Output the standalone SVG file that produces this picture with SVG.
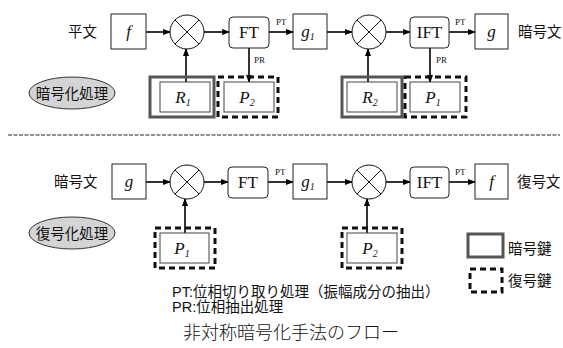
<svg xmlns="http://www.w3.org/2000/svg" width="563" height="348" viewBox="0 0 563 348">
<defs>
<style>
.bx{fill:#fff;stroke:#222;stroke-width:1}
.rb{fill:#fff;stroke:#222;stroke-width:1}
.ln{stroke:#000;stroke-width:1.6;fill:none}
.ar{stroke:#000;stroke-width:1.6;fill:none;marker-end:url(#ah)}
.mul{fill:#fff;stroke:#111;stroke-width:1}
.enc{fill:none;stroke:#555;stroke-width:3}
.dec{fill:none;stroke:#111;stroke-width:3;stroke-dasharray:6 4}
.inr{fill:#fff;stroke:#444;stroke-width:1}
.ell{fill:#d4d4d4;stroke:#333;stroke-width:1}
.m{font-family:"Liberation Serif",serif;font-style:italic;font-size:17px;fill:#111;text-anchor:middle}
.sub{font-size:10px}
.op{font-family:"Liberation Serif",serif;font-size:17px;fill:#111;text-anchor:middle}
.lb{font-family:"Liberation Serif",serif;font-size:9px;fill:#111}
.jp{font-family:"Liberation Sans","Noto Sans CJK JP",sans-serif;font-size:14.5px;fill:#111}
.note{font-family:"Liberation Sans","Noto Sans CJK JP",sans-serif;font-size:14.5px;fill:#111}
.ttl{font-family:"Liberation Serif","Noto Sans CJK JP",serif;font-size:18px;fill:#111;font-weight:300}
</style>
<marker id="ah" markerWidth="8" markerHeight="6" refX="7" refY="3" orient="auto" markerUnits="userSpaceOnUse">
<path d="M0,0 L8,3 L0,6 Z" fill="#000"/>
</marker>
</defs>

<g id="connectors">
<line class="ar" x1="146" y1="32" x2="170" y2="32"/>
<line class="ar" x1="204" y1="32" x2="229" y2="32"/>
<line class="ar" x1="269" y1="32" x2="293" y2="32"/>
<line class="ar" x1="327" y1="32" x2="352" y2="32"/>
<line class="ar" x1="386" y1="32" x2="410" y2="32"/>
<line class="ar" x1="449" y1="32" x2="475" y2="32"/>
<line class="ar" x1="249" y1="48" x2="249" y2="82"/>
<line class="ar" x1="430" y1="48" x2="430" y2="82"/>
<line class="ar" x1="186" y1="82" x2="186" y2="49"/>
<line class="ar" x1="368" y1="82" x2="368" y2="49"/>
<text class="lb" x="276" y="25">PT</text>
<text class="lb" x="455" y="25">PT</text>
<text class="lb" x="254" y="63">PR</text>
<text class="lb" x="436" y="63">PR</text>

<line class="ar" x1="146" y1="182" x2="170" y2="182"/>
<line class="ar" x1="204" y1="182" x2="228" y2="182"/>
<line class="ar" x1="268" y1="182" x2="293" y2="182"/>
<line class="ar" x1="327" y1="182" x2="352" y2="182"/>
<line class="ar" x1="386" y1="182" x2="410" y2="182"/>
<line class="ar" x1="449" y1="182" x2="475" y2="182"/>
<line class="ar" x1="185" y1="233" x2="185" y2="199"/>
<line class="ar" x1="367" y1="233" x2="367" y2="199"/>
<text class="lb" x="275" y="175">PT</text>
<text class="lb" x="455" y="175">PT</text>
</g>

<line x1="8" y1="135" x2="560" y2="135" stroke="#222" stroke-width="1.2" stroke-dasharray="4 1.5"/>

<!-- top row -->
<g id="t-plain"><text class="jp" x="68" y="37">平文</text></g>
<g id="t-f"><rect class="bx" x="111" y="14" width="35" height="35"/><text class="m" x="128.5" y="37">f</text></g>
<g id="t-mul1"><circle class="mul" cx="187" cy="32" r="17"/><path class="mul" d="M175,20 L199,44 M199,20 L175,44"/></g>
<g id="t-ft"><rect class="rb" x="229" y="17" width="40" height="31" rx="4"/><text class="op" x="249" y="38">FT</text></g>
<g id="t-g1"><rect class="bx" x="293" y="14" width="34" height="35"/><text class="m" x="308" y="37">g<tspan class="sub" dy="3">1</tspan></text></g>
<g id="t-mul2"><circle class="mul" cx="369" cy="32" r="17"/><path class="mul" d="M357,20 L381,44 M381,20 L357,44"/></g>
<g id="t-ift"><rect class="rb" x="410" y="17" width="39" height="31" rx="4"/><text class="op" x="429.5" y="38">IFT</text></g>
<g id="t-g"><rect class="bx" x="475" y="14" width="33" height="35"/><text class="m" x="491.5" y="37">g</text></g>
<g id="t-cipher"><text class="jp" x="518" y="37">暗号文</text></g>
<g id="t-encproc"><ellipse class="ell" cx="72" cy="93" rx="43" ry="16"/><text class="jp" x="72" y="98.5" text-anchor="middle" font-size="16">暗号化処理</text></g>
<g id="t-R1"><rect class="enc" x="150" y="77" width="64" height="40"/><rect class="inr" x="160" y="82" width="50" height="30"/><text class="m" x="183" y="103">R<tspan class="sub" dy="3">1</tspan></text></g>
<g id="t-P2"><rect class="dec" x="218" y="77" width="60" height="40"/><rect class="inr" x="224" y="82" width="50" height="30"/><text class="m" x="247" y="103">P<tspan class="sub" dy="3">2</tspan></text></g>
<g id="t-R2"><rect class="enc" x="342" y="77" width="60" height="40"/><rect class="inr" x="347" y="82" width="50" height="30"/><text class="m" x="370" y="103">R<tspan class="sub" dy="3">2</tspan></text></g>
<g id="t-P1"><rect class="dec" x="405" y="77" width="61" height="40"/><rect class="inr" x="410" y="82" width="50" height="30"/><text class="m" x="433" y="103">P<tspan class="sub" dy="3">1</tspan></text></g>

<!-- bottom row -->
<g id="b-cipher"><text class="jp" x="54" y="187">暗号文</text></g>
<g id="b-g"><rect class="bx" x="112" y="164" width="34" height="35"/><text class="m" x="129" y="187">g</text></g>
<g id="b-mul1"><circle class="mul" cx="187" cy="182" r="17"/><path class="mul" d="M175,170 L199,194 M199,170 L175,194"/></g>
<g id="b-ft"><rect class="rb" x="228" y="167" width="40" height="31" rx="4"/><text class="op" x="248" y="188">FT</text></g>
<g id="b-g1"><rect class="bx" x="293" y="164" width="34" height="35"/><text class="m" x="308" y="187">g<tspan class="sub" dy="3">1</tspan></text></g>
<g id="b-mul2"><circle class="mul" cx="369" cy="182" r="17"/><path class="mul" d="M357,170 L381,194 M381,170 L357,194"/></g>
<g id="b-ift"><rect class="rb" x="410" y="167" width="39" height="31" rx="4"/><text class="op" x="429.5" y="188">IFT</text></g>
<g id="b-f"><rect class="bx" x="475" y="164" width="33" height="35"/><text class="m" x="491.5" y="187">f</text></g>
<g id="b-plain"><text class="jp" x="517" y="187">復号文</text></g>
<g id="b-decproc"><ellipse class="ell" cx="72" cy="233" rx="43" ry="16"/><text class="jp" x="72" y="238.5" text-anchor="middle" font-size="16">復号化処理</text></g>
<g id="b-P1"><rect class="dec" x="155" y="228" width="60" height="40"/><rect class="inr" x="160" y="233" width="49" height="30"/><text class="m" x="182" y="254">P<tspan class="sub" dy="3">1</tspan></text></g>
<g id="b-P2"><rect class="dec" x="342" y="228" width="60" height="40"/><rect class="inr" x="347" y="233" width="50" height="30"/><text class="m" x="370" y="254">P<tspan class="sub" dy="3">2</tspan></text></g>

<!-- legend -->
<g id="legend-enc"><rect class="enc" x="468" y="234" width="35" height="23"/><text class="jp" x="508" y="254" font-size="14">暗号鍵</text></g>
<g id="legend-dec"><rect class="dec" x="470" y="269" width="32" height="23" stroke-dasharray="7 5"/><text class="jp" x="508" y="286" font-size="14">復号鍵</text></g>

<g id="notes">
<text class="note" x="172" y="297">PT:位相切り取り処理（振幅成分の抽出）</text>
<text class="note" x="172" y="312">PR:位相抽出処理</text>
</g>
<text class="ttl" x="183" y="339">非対称暗号化手法のフロー</text>
</svg>
